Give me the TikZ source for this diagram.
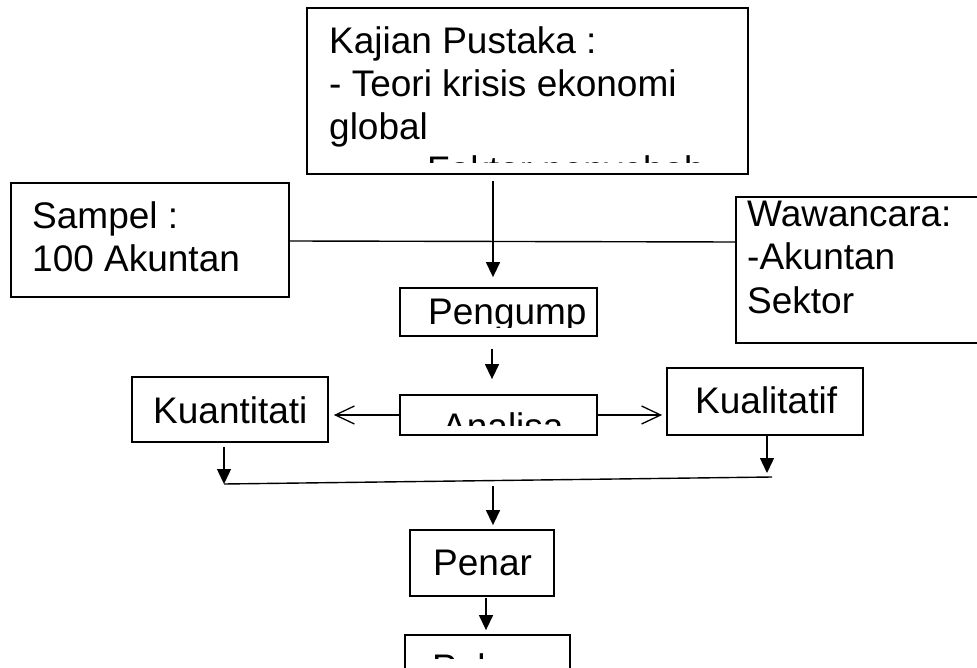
\documentclass[tikz,border=0pt]{standalone}
\usepackage{fontspec}
\setmainfont{Liberation Sans}
\usetikzlibrary{arrows.meta}
\begin{document}
\begin{tikzpicture}[x=1pt,y=-1pt,
  box/.style={draw, line width=1.8pt, inner sep=0pt},
  txt/.style={anchor=base west, inner sep=0pt, font=\fontsize{37}{43}\selectfont},
  conn/.style={line width=1.4pt},
  fa/.style={conn, -{Triangle[length=15pt,width=14pt]}},
  oa/.style={conn, -{Straight Barb[length=19pt,width=18pt,line width=1.3pt]}}]
\clip (0,0) rectangle (977,668);
\fill[white] (0,0) rectangle (977,668);
% boxes
\node[box, minimum width=441pt, minimum height=166pt] (kajian) at (527.5,91) {};
\node[box, minimum width=278pt, minimum height=114pt] (sampel) at (150,240) {};
\node[box, minimum width=264pt, minimum height=146pt] (wawancara) at (868,270) {};
\node[box, minimum width=197pt, minimum height=48pt] (pengump) at (498.5,312) {};
\node[box, minimum width=197pt, minimum height=40pt] (analisa) at (498.5,415) {};
\node[box, minimum width=196pt, minimum height=65pt] (kuantitati) at (230,409.5) {};
\node[box, minimum width=196pt, minimum height=67pt] (kualitatif) at (765,401.5) {};
\node[box, minimum width=144pt, minimum height=66pt] (penar) at (482,563) {};
\node[box, minimum width=165pt, minimum height=70pt] (pelap) at (487.5,670) {};
% texts
\begin{scope}
\clip (307,8) rectangle (748,163);
\node[txt] (t1) at (329,54) {Kajian Pustaka :};
\node[txt] (t2) at (329,97) {- Teori krisis ekonomi};
\node[txt] (t3) at (329,140) {global};
\node[txt] (t4) at (427,183) {Faktor penyebab};
\end{scope}
\node[txt] (t5) at (32,229) {Sampel :};
\node[txt] (t6) at (32,272) {100 Akuntan};
\node[txt] (t7) at (747,227) {Wawancara:};
\node[txt] (t8) at (747,270) {-Akuntan};
\node[txt] (t9) at (747,313) {Sektor};
\begin{scope}
\clip (400,288) rectangle (597,327);
\node[txt] (t10) at (428,324) {Pengump};
\end{scope}
\begin{scope}
\clip (400,395) rectangle (597,425);
\node[txt] (t11) at (442,439) {Analisa};
\end{scope}
\node[txt] (t12) at (153,423) {Kuantitati};
\node[txt] (t13) at (695,413) {Kualitatif};
\node[txt] (t14) at (433,575) {Penar};
\begin{scope}
\clip (405,635) rectangle (570,658);
\node[txt] (t15) at (432,680) {Pelaporan};
\end{scope}
% coordinates
\coordinate (jl) at (224,484);
\coordinate (jr) at (772,477);
\coordinate (kt) at (767,473);
% connectors
\draw[fa] ([shift={(-34.5,6)}]kajian.south) -- ([shift={(-5.5,-10)}]pengump.north);
\draw[conn] ([shift={(0,1)}]sampel.east) -- ([shift={(0,-28)}]wawancara.west);
\draw[fa] ([shift={(-6.5,12)}]pengump.south) -- ([shift={(-6.5,-15)}]analisa.north);
\draw[oa] (analisa.west) -- ([shift={(5,5.5)}]kuantitati.east);
\draw[oa] (analisa.east) -- ([shift={(-4,13.5)}]kualitatif.west);
\draw[fa] ([shift={(-6,4)}]kuantitati.south) -- (jl);
\draw[fa] ([shift={(2,0)}]kualitatif.south) -- (kt);
\draw[conn] (jl) -- (jr);
\draw[fa] ([shift={(11,-43)}]penar.north) -- ([shift={(11,-4)}]penar.north);
\draw[fa] ([shift={(4,1)}]penar.south) -- ([shift={(-1.5,-4)}]pelap.north);
\end{tikzpicture}
\end{document}
